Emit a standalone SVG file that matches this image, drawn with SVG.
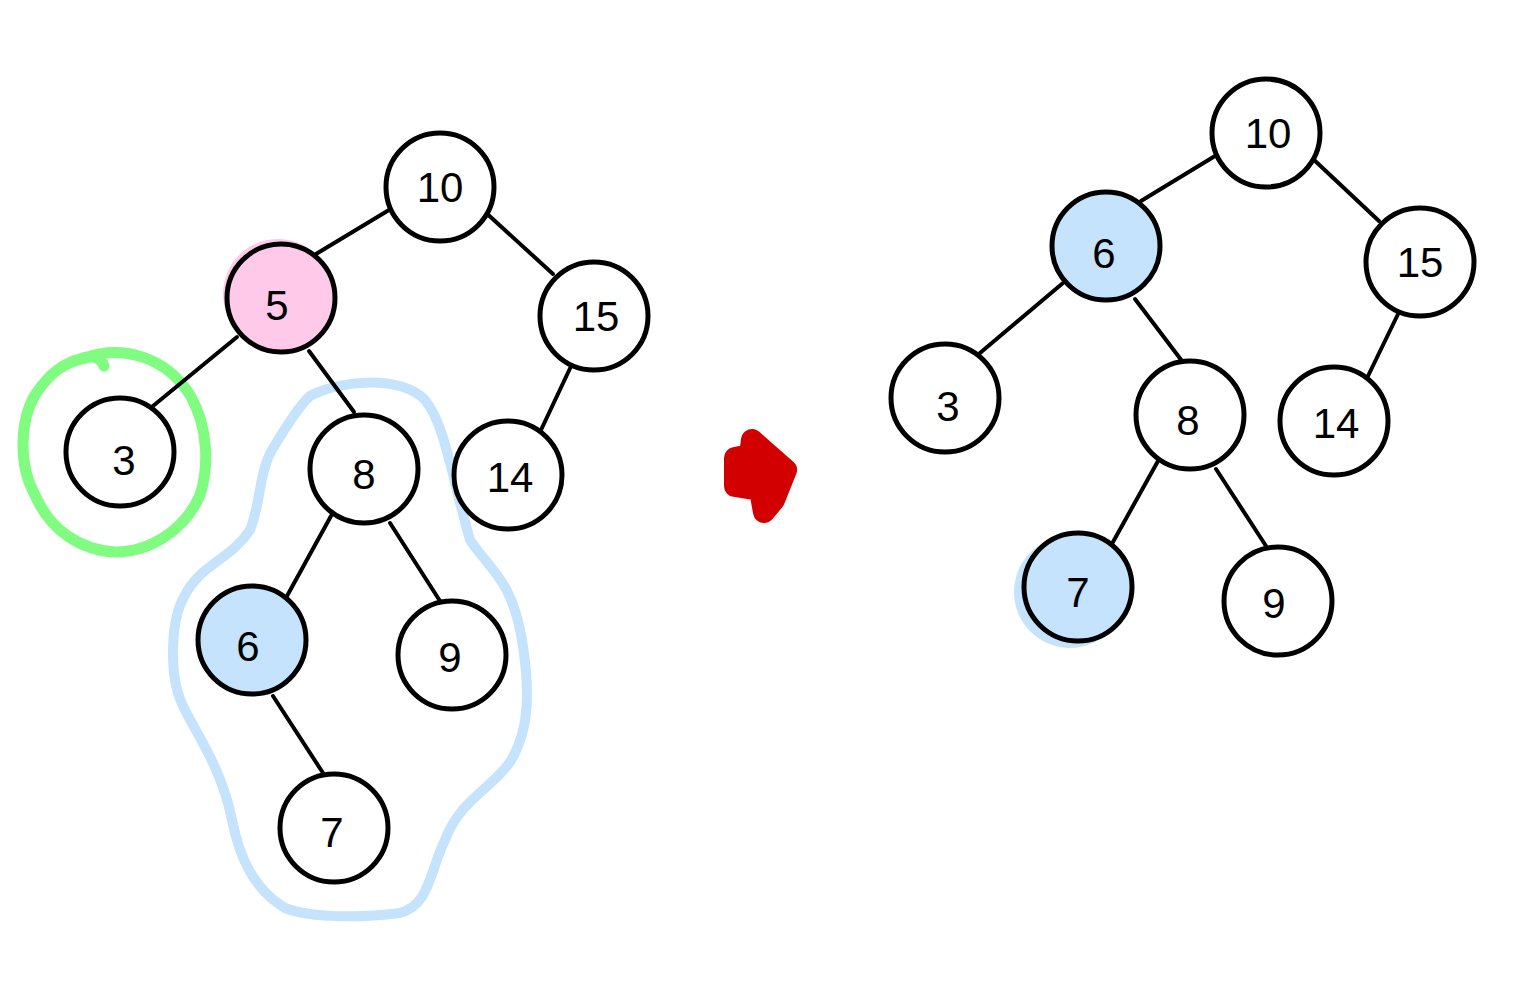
<svg xmlns="http://www.w3.org/2000/svg" width="1532" height="1000" viewBox="0 0 1532 1000">
<style>
.n{fill:#fff;stroke:#000;stroke-width:5}
.pink{fill:#ffc9e9}
.blue{fill:#c5e3fc}
.t{font-family:"Liberation Sans",Arial,sans-serif;font-size:42px;fill:#000;text-anchor:middle;dominant-baseline:central}
.e{stroke:#000;stroke-width:4;stroke-linecap:round;fill:none}
</style>
<rect width="1532" height="1000" fill="#fff"/>
<g id="highlights">
<path d="M85,358 C120,345 165,355 190,395 C210,430 208,470 200,495 C185,530 150,552 115,552 C80,550 50,530 35,495 C18,465 20,420 35,395 C50,372 65,362 85,358 Z" fill="none" stroke="#80fc80" stroke-width="11" stroke-linejoin="round"/>
<path d="M82,358 Q100,354 104,366" fill="none" stroke="#80fc80" stroke-width="11" stroke-linecap="round"/>
<path d="M310,396 C340,380 400,375 425,400 C445,425 450,470 470,540 C490,570 512,580 522,640 C530,690 530,730 510,762 C490,790 460,800 445,840 C430,870 430,905 400,913 C360,918 310,918 285,908 C255,890 240,860 232,820 C222,770 200,740 185,710 C168,680 170,620 185,595 C200,565 230,560 250,530 C262,500 258,470 275,445 C290,420 300,405 310,396 Z" fill="none" stroke="#c5e3fc" stroke-width="10" stroke-linejoin="round"/>
<circle cx="278" cy="294" r="55" fill="#ffc9e9"/>
<circle cx="1070" cy="592" r="56" fill="#c5e3fc"/>
</g>
<g id="connectors">
<line class="e" x1="389" y1="210" x2="316" y2="254"/>
<line class="e" x1="484" y1="211" x2="553" y2="274"/>
<line class="e" x1="237" y1="337" x2="153" y2="406"/>
<line class="e" x1="309" y1="351" x2="354" y2="412"/>
<line class="e" x1="573" y1="362" x2="541" y2="430"/>
<line class="e" x1="331" y1="516" x2="287" y2="596"/>
<line class="e" x1="390" y1="523" x2="440" y2="601"/>
<line class="e" x1="273" y1="696" x2="323" y2="773"/>
<line class="e" x1="1215" y1="156" x2="1141" y2="201"/>
<line class="e" x1="1312" y1="158" x2="1379" y2="221"/>
<line class="e" x1="1063" y1="283" x2="980" y2="353"/>
<line class="e" x1="1135" y1="299" x2="1182" y2="361"/>
<line class="e" x1="1400" y1="310" x2="1368" y2="376"/>
<line class="e" x1="1158" y1="461" x2="1113" y2="542"/>
<line class="e" x1="1216" y1="469" x2="1266" y2="546"/>
</g>
<g id="L10"><circle class="n" cx="440" cy="187" r="54"/><text class="t" x="440" y="187">10</text></g>
<g id="L5"><circle class="n pink" cx="281" cy="298" r="54"/><text class="t" x="277" y="305">5</text></g>
<g id="L15"><circle class="n" cx="594" cy="316" r="54"/><text class="t" x="596" y="316">15</text></g>
<g id="L3"><circle class="n" cx="120" cy="452" r="54"/><text class="t" x="124" y="460">3</text></g>
<g id="L8"><circle class="n" cx="364" cy="469" r="54"/><text class="t" x="364" y="474">8</text></g>
<g id="L14"><circle class="n" cx="508" cy="475" r="54"/><text class="t" x="510" y="477">14</text></g>
<g id="L6"><circle class="n blue" cx="252" cy="640" r="54"/><text class="t" x="248" y="646">6</text></g>
<g id="L9"><circle class="n" cx="452" cy="655" r="54"/><text class="t" x="450" y="657">9</text></g>
<g id="L7"><circle class="n" cx="334" cy="828" r="54"/><text class="t" x="332" y="832">7</text></g>
<g id="arrow">
<path d="M752,440 L786,470 L774,500 L764,512 L760,490 L735,486 L735,458 L750,455 Z" fill="#d20000" stroke="#d20000" stroke-width="22" stroke-linejoin="round"/>
</g>
<g id="R10"><circle class="n" cx="1266" cy="133" r="54"/><text class="t" x="1268" y="133">10</text></g>
<g id="R6"><circle class="n blue" cx="1106" cy="246" r="54"/><text class="t" x="1104" y="253">6</text></g>
<g id="R15"><circle class="n" cx="1420" cy="262" r="54"/><text class="t" x="1420" y="262">15</text></g>
<g id="R3"><circle class="n" cx="945" cy="398" r="54"/><text class="t" x="948" y="406">3</text></g>
<g id="R8"><circle class="n" cx="1190" cy="415" r="54"/><text class="t" x="1188" y="420">8</text></g>
<g id="R14"><circle class="n" cx="1334" cy="421" r="54"/><text class="t" x="1336" y="423">14</text></g>
<g id="R7"><circle class="n blue" cx="1078" cy="587" r="54"/><text class="t" x="1078" y="592">7</text></g>
<g id="R9"><circle class="n" cx="1278" cy="601" r="54"/><text class="t" x="1274" y="603">9</text></g>
</svg>
